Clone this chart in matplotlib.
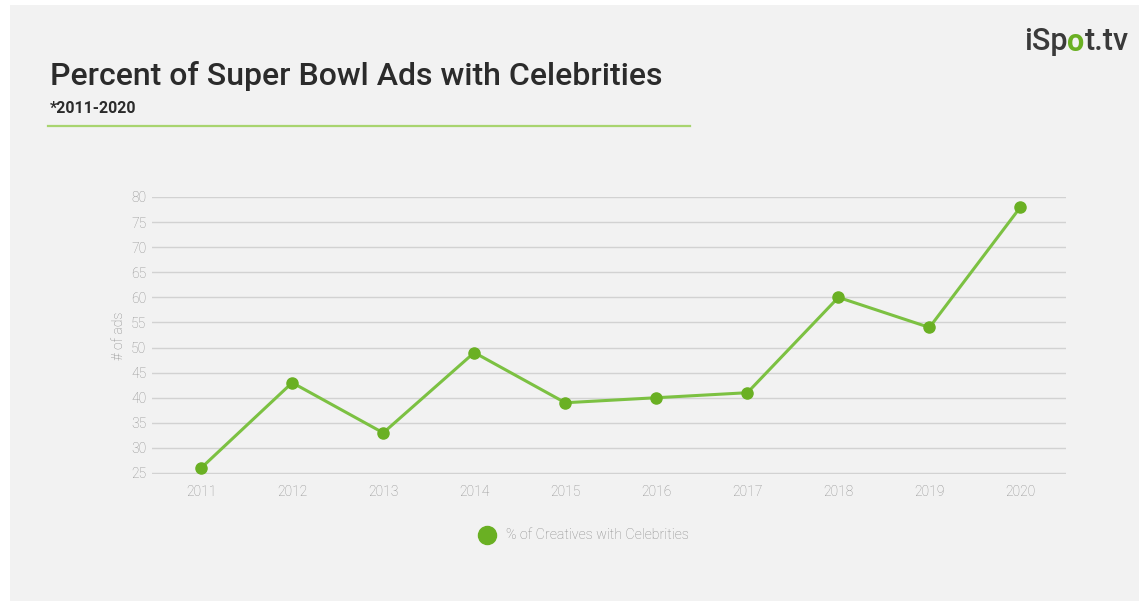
import matplotlib
matplotlib.use("Agg")
import matplotlib.pyplot as plt
from matplotlib.patches import Rectangle
from matplotlib.lines import Line2D

years = ["2011", "2012", "2013", "2014", "2015", "2016", "2017", "2018", "2019", "2020"]
pct_celebrity = [26, 43, 33, 49, 39, 40, 41, 60, 54, 78]
y_ticks = [25, 30, 35, 40, 45, 50, 55, 60, 65, 70, 75, 80]

W, H = 1139, 601
fig = plt.figure(figsize=(W / 100, H / 100), dpi=100)
fig.patch.set_facecolor("white")

# light grey panel
fig.patches.append(Rectangle((10 / W, 0), (W - 10) / W, (H - 5) / H,
                             transform=fig.transFigure, facecolor="#f2f2f2",
                             edgecolor="none", zorder=-5))

def fx(px):
    return px / W

def fy(py):
    return 1 - py / H

# title block
fig.text(fx(50), fy(76), "Percent of Super Bowl Ads with Celebrities",
         fontsize=23, fontweight="medium", family="Roboto", color="#2b2b2b",
         va="center", ha="left")
fig.text(fx(50), fy(108), "*2011-2020", fontsize=11.5, fontweight="bold",
         family="Roboto", color="#2b2b2b", va="center", ha="left")
fig.add_artist(Line2D([fx(48), fx(690)], [fy(126), fy(126)],
                      transform=fig.transFigure, color="#a8d46f", lw=1.6))

# logo
logo_size = 22
t1 = fig.text(fx(1024), fy(42), "iSp", fontsize=logo_size, fontweight="medium",
              family="Roboto", color="#3a3a3a", va="center", ha="left")
fig.canvas.draw()
r = fig.canvas.get_renderer()
bb = t1.get_window_extent(r)
t2 = fig.text(bb.x1 / W, fy(42), "o", fontsize=logo_size, fontweight="bold",
              family="Roboto", color="#6ab023", va="center", ha="left")
fig.canvas.draw()
bb2 = t2.get_window_extent(r)
fig.text(bb2.x1 / W, fy(42), "t.tv", fontsize=logo_size, fontweight="medium",
         family="Roboto", color="#3a3a3a", va="center", ha="left")

# main axes
left, right, top, bottom = 152, 1066, 197, 473
ax = fig.add_axes([fx(left), fy(bottom + 1), (right - left) / W, (bottom + 1 - top) / H])
ax.set_facecolor("none")
x = list(range(len(years)))
ax.plot(x, pct_celebrity, color="#7cc142", lw=2.2, marker="o", markersize=8,
        markerfacecolor="#6ab023", markeredgecolor="#6ab023", clip_on=False,
        zorder=3)
ax.set_xlim(-0.54, 9.5)
ax.set_ylim(24.8, 80)
ax.set_yticks(y_ticks)
ax.set_xticks(x)
ax.set_xticklabels(years)
ax.grid(axis="y", color="#d2d2d2", lw=1)
ax.set_axisbelow(True)
for s in ax.spines.values():
    s.set_visible(False)
ax.tick_params(length=0, labelsize=10, labelcolor="#8f8f8f")
ax.tick_params(axis="y", pad=4)
ax.tick_params(axis="x", pad=8)
for lab in ax.get_xticklabels() + ax.get_yticklabels():
    lab.set_family("Roboto")
    lab.set_fontweight("light")
ax.set_ylabel("# of ads", fontsize=10, color="#888888", family="Roboto",
              fontweight="light", labelpad=4)

# legend
fig.add_artist(Line2D([fx(487)], [fy(535)], transform=fig.transFigure,
                      marker="o", markersize=13, color="#6ab023", lw=0))
fig.text(fx(506), fy(535), "% of Creatives with Celebrities", fontsize=10.3,
         family="Roboto", fontweight="light", color="#8a8a8a", va="center",
         ha="left")

fig.savefig("out.png", dpi=100)
